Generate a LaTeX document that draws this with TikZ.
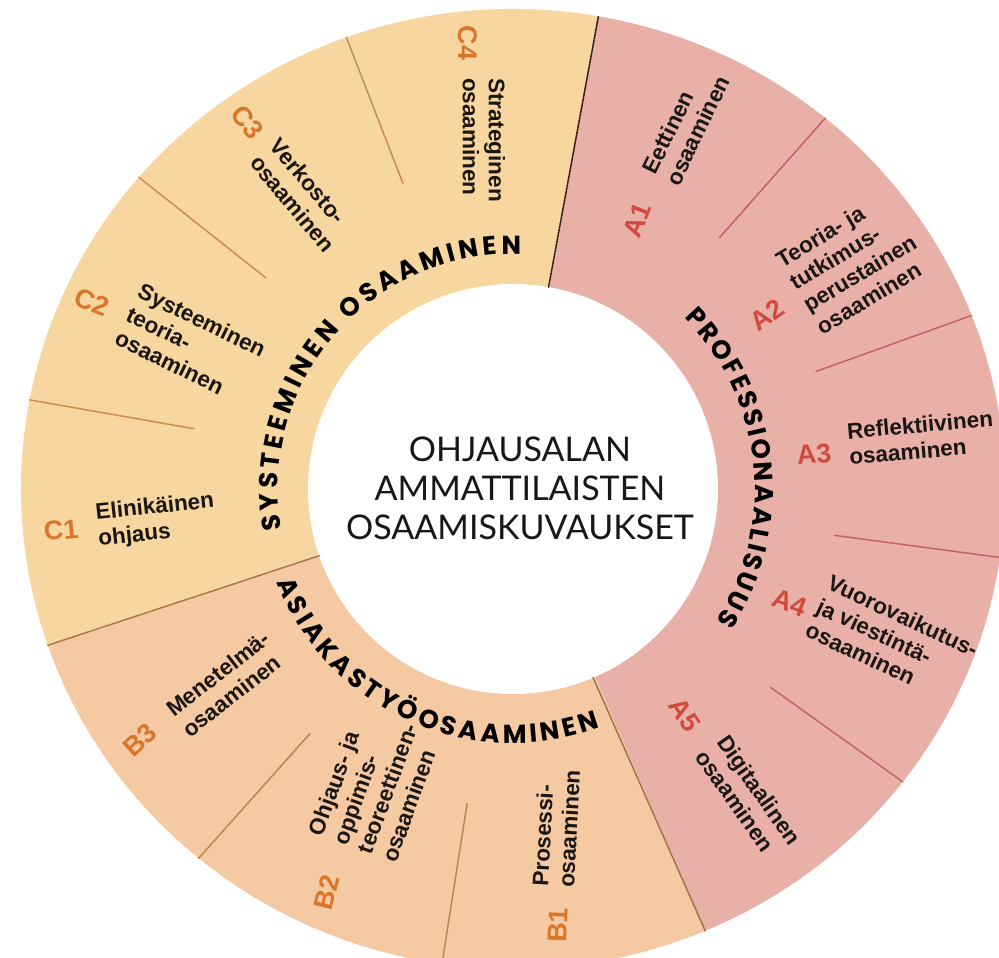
\documentclass[tikz,border=0pt]{standalone}
\usepackage{fontspec}
\setmainfont{Lato}
\newfontfamily\kuvausfont{Liberation Sans}
\newfontfamily\otsikkofont{Poppins}
\usetikzlibrary{decorations.text}
\definecolor{sektoriA}{RGB}{233,176,168}
\definecolor{sektoriB}{RGB}{245,201,162}
\definecolor{sektoriC}{RGB}{247,214,160}
\definecolor{punainen}{RGB}{210,74,62}
\definecolor{oranssi}{RGB}{217,118,42}
\definecolor{viivaA}{RGB}{195,100,98}
\definecolor{viivaB}{RGB}{190,132,84}
\definecolor{viivaC}{RGB}{200,142,84}
\definecolor{teksti}{RGB}{26,22,20}
\tikzset{
  tunnus/.style={font=\kuvausfont\bfseries\fontsize{27}{27}\selectfont,inner sep=0pt,text=oranssi},
  tunnusA/.style={tunnus,text=punainen},
  kuvaus/.style={font=\kuvausfont\bfseries\fontsize{22.5}{26}\selectfont,align=left,anchor=west,
    inner sep=0pt,text=teksti},
  jako/.style={line width=1.5pt},
  raja/.style={line width=1.6pt,dash pattern=on 2pt off 1pt},
  otsikko/.style={decorate,decoration={text along path,text align={fit to path},text={#1}}}
}
\begin{document}
\begin{tikzpicture}[x=1pt,y=1pt,line cap=round]
  \useasboundingbox (-513,-469) rectangle (486,489);
  \fill[sektoriA] (0,0) -- (80:492 and 480) arc[start angle=80,end angle=-67,x radius=492,y radius=480] -- cycle;
  \fill[sektoriB] (0,0) -- (199:492 and 480) arc[start angle=199,end angle=293,x radius=492,y radius=480] -- cycle;
  \fill[sektoriC] (0,0) -- (80:492 and 480) arc[start angle=80,end angle=199,x radius=492,y radius=480] -- cycle;
  \fill[white] (0,0) circle (205);
  \draw[raja,black!70!viivaA] (80:205) -- (80:492 and 480);
  \draw[raja,viivaB!85!black] (-67:205) -- (-67:492 and 480);
  \draw[raja,viivaC!85!black] (199:205) -- (199:492 and 480);
  \foreach \a in {50.6,21.2,-8.2,-37.6}
    \draw[jako,viivaA] (\a:325) -- (\a:492 and 480);
  \foreach \a in {230.3,261.7}
    \draw[jako,viivaB] (\a:318) -- (\a:492 and 480);
  \foreach \a in {109.8,139.5,169.3}
    \draw[jako,viivaC] (\a:325) -- (\a:492 and 480);

  \path[otsikko={|\otsikkofont\bfseries\fontsize{26}{26}\selectfont|SYSTEEMINEN OSAAMINEN}]
    (190:235) arc[start angle=190,end angle=88,radius=235];
  \path[otsikko={|\otsikkofont\bfseries\fontsize{26}{26}\selectfont|PROFESSIONAALISUUS}]
    (45:242) arc[start angle=45,end angle=-33,radius=242];
  \path[otsikko={|\otsikkofont\bfseries\fontsize{26}{26}\selectfont|ASIAKASTYÖOSAAMINEN}]
    (201.5:254) arc[start angle=201.5,end angle=290,radius=254];

  \node[align=center,text=teksti,font=\fontsize{34}{39}\selectfont] (keskus) at (7,1)
    {OHJAUSALAN\\AMMATTILAISTEN\\OSAAMISKUVAUKSET};

  \node[tunnus,rotate=-90] (c4) at (-45,446) {C4};
  \node[kuvaus,rotate=-90] (c4t) at (-29,411) {Strateginen\\osaaminen};
  \node[tunnus,rotate=-52] (c3) at (-266,367) {C3};
  \node[kuvaus,rotate=-50] (c3t) at (-248,339) {Verkosto-\\osaaminen};
  \node[tunnus,rotate=-22] (c2) at (-421,187) {C2};
  \node[kuvaus,rotate=-26] (c2t) at (-385,176) {Systeeminen\\teoria-\\osaaminen};
  \node[tunnus,rotate=5] (c1) at (-452,-41) {C1};
  \node[kuvaus,rotate=6] (c1t) at (-416,-38) {Elinikäinen\\ohjaus};

  \node[tunnus,rotate=42] (b3) at (-373,-251) {B3};
  \node[kuvaus,rotate=38] (b3t) at (-336,-233) {Menetelmä-\\osaaminen};
  \node[tunnus,rotate=76] (b2) at (-186,-403) {B2};
  \node[kuvaus,rotate=70] (b2t) at (-161,-359) {Ohjaus- ja\\oppimis-\\teoreettinen-\\osaaminen};
  \node[tunnus,rotate=88] (b1) at (45,-436) {B1};
  \node[kuvaus,rotate=87] (b1t) at (40,-398) {Prosessi-\\osaaminen};

  \node[tunnusA,rotate=68] (a1) at (124,269) {A1};
  \node[kuvaus,rotate=64] (a1t) at (147,311) {Eettinen\\osaaminen};
  \node[tunnusA,rotate=36] (a2) at (254,174) {A2};
  \node[kuvaus,rotate=31] (a2t) at (285,194) {Teoria- ja\\tutkimus-\\perustainen\\osaaminen};
  \node[tunnusA,rotate=5] (a3) at (301,35) {A3};
  \node[kuvaus,rotate=5] (a3t) at (335,45) {Reflektiivinen\\osaaminen};
  \node[tunnusA,rotate=-20] (a4) at (277,-114) {A4};
  \node[kuvaus,rotate=-25] (a4t) at (305,-116) {Vuorovaikutus-\\ja viestintä-\\osaaminen};
  \node[tunnusA,rotate=-57] (a5) at (172,-226) {A5};
  \node[kuvaus,rotate=-55] (a5t) at (199,-256) {Digitaalinen\\osaaminen};
\end{tikzpicture}
\end{document}
